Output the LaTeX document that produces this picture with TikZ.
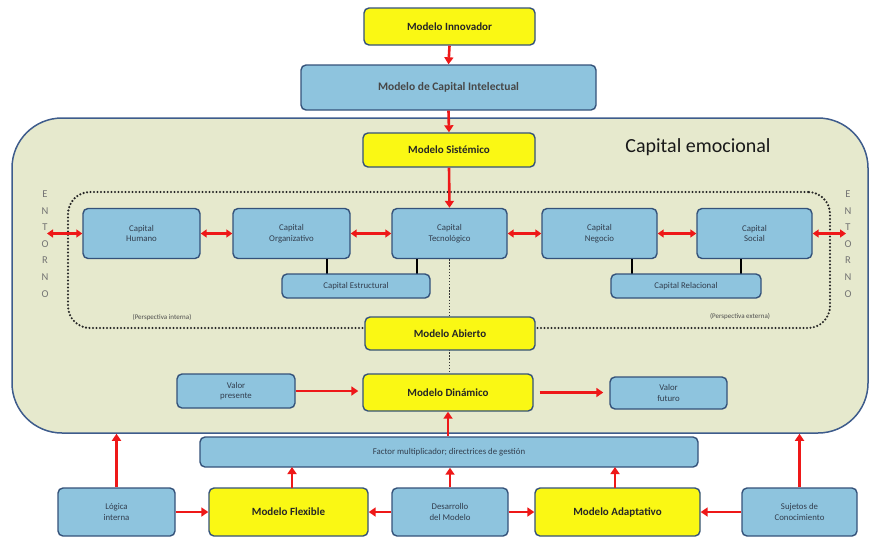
\documentclass[tikz,border=0pt]{standalone}
\usepackage{fontspec}
\setmainfont{Carlito}
\usetikzlibrary{arrows.meta}
\definecolor{boxblue}{RGB}{142,196,222}
\definecolor{boxline}{RGB}{52,82,122}
\definecolor{boxyellow}{RGB}{250,248,20}
\definecolor{boxtext}{RGB}{50,62,78}
\definecolor{regionfill}{RGB}{230,233,205}
\definecolor{regionline}{RGB}{62,92,140}
\definecolor{arrowred}{RGB}{238,24,24}
\begin{document}
\begin{tikzpicture}[x=1pt,y=-1pt,
  box/.style={draw=boxline, line width=1.4pt, rounded corners=5pt, inner sep=0pt, align=center},
  bluebox/.style={box, fill=boxblue, text=boxtext, font=\fontsize{8.8}{10.5}\selectfont},
  yellowbox/.style={box, fill=boxyellow, text=black!85, font=\bfseries\fontsize{11}{13}\selectfont},
  redarrow/.style={draw=arrowred, line width=2.6pt, -{Triangle[length=7pt,width=9pt]}},
  twoway/.style={draw=arrowred, line width=2.6pt, {Triangle[length=6pt,width=8pt]}-{Triangle[length=6pt,width=8pt]}},
  link/.style={draw=black, line width=2.2pt},
  letters/.style={text=black!55, font=\fontsize{10.5}{16.6}\selectfont, align=center, inner sep=0pt},
  note/.style={text=black!70, font=\fontsize{7}{8}\selectfont, inner sep=0pt},
]
\useasboundingbox (0,0) rectangle (872,539);

% Capital emocional region
\node[draw=regionline, fill=regionfill, line width=1.5pt, rounded corners=50pt,
      minimum width=856pt, minimum height=315pt, inner sep=0pt] (emo) at (440,275.5) {};
\node[font=\fontsize{20}{24}\selectfont, text=black!90, inner sep=0pt] (emotitle) at (698,147) {Capital emocional};

% dotted frame around the capitals
\node[draw=black!85, line width=2.4pt, dash pattern=on 0pt off 3.5pt, line cap=round,
      rounded corners=22pt, minimum width=762pt, minimum height=136pt, inner sep=0pt] (frame) at (449,260) {};

% top chain
\node[yellowbox, minimum width=171pt, minimum height=37pt] (innov) at (449.5,26.5) {Modelo Innovador};
\node[bluebox, font=\bfseries\fontsize{11.5}{13}\selectfont, text=black!72, minimum width=295pt, minimum height=45pt] (intel) at (448.5,87.5) {Modelo de Capital Intelectual};
\node[yellowbox, minimum width=172pt, minimum height=34pt] (sist) at (449,150) {Modelo Sistémico};

% capitals
\node[bluebox, minimum width=117pt, minimum height=50pt] (hum) at (141.5,233.5) {Capital\\Humano};
\node[bluebox, minimum width=117pt, minimum height=50pt] (org) at (291.5,233.5) {Capital\\Organizativo};
\node[bluebox, minimum width=115pt, minimum height=50pt] (tec) at (449.5,233.5) {Capital\\Tecnológico};
\node[bluebox, minimum width=115pt, minimum height=50pt] (neg) at (599.5,233.5) {Capital\\Negocio};
\node[bluebox, minimum width=115pt, minimum height=50pt] (soc) at (754.5,233.5) {Capital\\Social};

% black links down to the structural / relational capitals
\draw[link] (327,259) -- (327,274);
\draw[link] (417,259) -- (417,274);
\draw[link] (632,259) -- (632,274);
\draw[link] (741,259) -- (741,274);

\node[bluebox, minimum width=148pt, minimum height=24pt] (estr) at (356,286) {Capital Estructural};
\node[bluebox, minimum width=150pt, minimum height=24pt] (rel) at (686,286) {Capital Relacional};

% ENTORNO labels
\node[letters] (entornoL) at (45,244) {E\\N\\T\\O\\R\\N\\O};
\node[letters] (entornoR) at (848,244) {E\\N\\T\\O\\R\\N\\O};
\coordinate (entL) at (47,233.5);
\coordinate (entR) at (846,233.5);

\node[note] (pint) at (162,317) {(Perspectiva interna)};
\node[note] (pext) at (740,316) {(Perspectiva externa)};

% dotted axis from Capital Tecnológico to Modelo Dinámico
\draw[black!80, line width=1.4pt, dash pattern=on 1.4pt off 1.7pt] (tec.south) -- (449.5,374);

\node[yellowbox, minimum width=170pt, minimum height=33pt] (abierto) at (450,333.5) {Modelo Abierto};

% dynamic model row
\node[bluebox, minimum width=118pt, minimum height=34pt] (vpres) at (236,391) {Valor\\presente};
\node[yellowbox, minimum width=170pt, minimum height=37pt] (din) at (448,392.5) {Modelo Dinámico};
\node[bluebox, minimum width=117pt, minimum height=32pt] (vfut) at (668.5,393) {Valor\\futuro};

% factor bar
\node[bluebox, minimum width=498pt, minimum height=30pt] (factor) at (449,452) {Factor multiplicador; directrices de gestión};

% bottom row
\node[bluebox, minimum width=117pt, minimum height=48pt] (logica) at (116.5,512) {Lógica\\interna};
\node[yellowbox, minimum width=159pt, minimum height=48pt] (flex) at (288.5,512) {Modelo Flexible};
\node[bluebox, minimum width=116pt, minimum height=48pt] (desa) at (450,512) {Desarrollo\\del Modelo};
\node[yellowbox, minimum width=165pt, minimum height=48pt] (adapt) at (617.5,512) {Modelo Adaptativo};
\node[bluebox, minimum width=115pt, minimum height=48pt] (suj) at (799.5,512) {Sujetos de\\Conocimiento};

% red arrows, top chain
\draw[redarrow] (innov.south) -- (intel.north);
\draw[redarrow] (intel.south) -- (sist.north);
\draw[redarrow] (sist.south) -- (tec.north);

% red two-way arrows between capitals
\draw[twoway] (entL) -- (hum.west);
\draw[twoway] (hum.east) -- (org.west);
\draw[twoway] (org.east) -- (tec.west);
\draw[twoway] (tec.east) -- (neg.west);
\draw[twoway] (neg.east) -- (soc.west);
\draw[twoway] (soc.east) -- (entR);

% dynamic row arrows
\draw[redarrow] (vpres.east) -- ([xshift=-4pt]din.west |- vpres.east);
\draw[redarrow] ([xshift=6pt]din.east) -- ([xshift=-6pt]vfut.west |- din.east);
\draw[redarrow] (factor.north -| din.south) -- (din.south);

% bottom row arrows
\draw[redarrow] (logica.east) -- (flex.west);
\draw[redarrow] (desa.west) -- (flex.east);
\draw[redarrow] (desa.east) -- (adapt.west);
\draw[redarrow] (suj.west) -- (adapt.east);

% upward arrows
\draw[redarrow] (logica.north) -- (logica.north |- emo.south);
\draw[redarrow] (suj.north) -- (suj.north |- emo.south);
\draw[redarrow] (292,488) -- (292,467);
\draw[redarrow] (desa.north) -- (desa.north |- factor.south);
\draw[redarrow] (615,488) -- (615,467);
\end{tikzpicture}
\end{document}
